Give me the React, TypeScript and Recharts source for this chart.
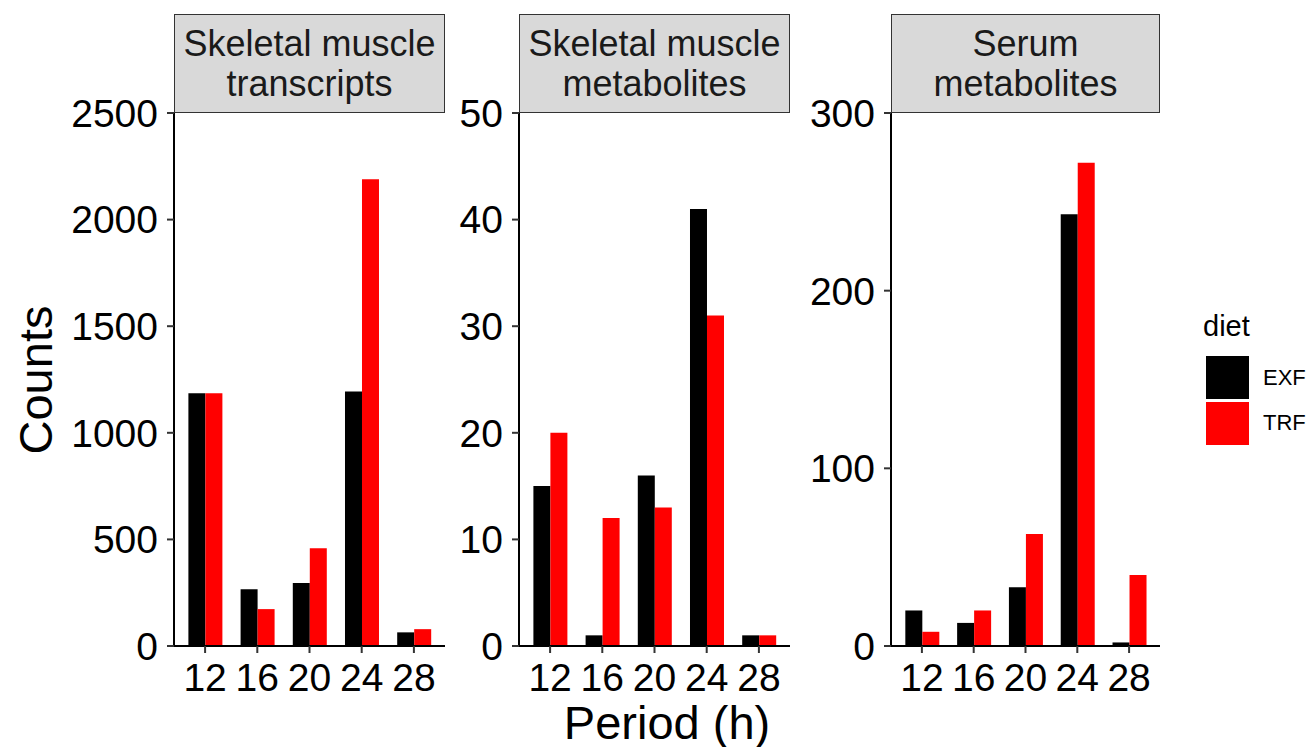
import { BarChart, Bar, XAxis, YAxis } from 'recharts';

const periods = ['12', '16', '20', '24', '28'];

const transcriptsEXF = [1186, 266, 295, 1194, 64];
const transcriptsTRF = [1186, 173, 459, 2189, 79];

const muscleMetabolitesEXF = [15, 1, 16, 41, 1];
const muscleMetabolitesTRF = [20, 12, 13, 31, 1];

const serumMetabolitesEXF = [20, 13, 33, 243, 2];
const serumMetabolitesTRF = [8, 20, 63, 272, 40];

const transcriptTicks = [0, 500, 1000, 1500, 2000, 2500];
const muscleTicks = [0, 10, 20, 30, 40, 50];
const serumTicks = [0, 100, 200, 300];

const FONT = '"Liberation Sans", Arial, Helvetica, sans-serif';
const PLOT_TOP = 113;
const PLOT_BOTTOM = 646;
const Y_AXIS_W = 130;
const X_AXIS_H = 60;
const H = 747;

function toRows(exf: number[], trf: number[]) {
  return periods.map((p, i) => ({ period: p, EXF: exf[i], TRF: trf[i] }));
}

interface PanelProps {
  plotLeft: number;
  plotWidth: number;
  exf: number[];
  trf: number[];
  ticks: number[];
  title: string[];
}

function Panel({ plotLeft, plotWidth, exf, trf, ticks, title }: PanelProps) {
  const data = toRows(exf, trf);
  const max = ticks[ticks.length - 1];
  return (
    <>
      <div
        style={{
          position: 'absolute',
          left: plotLeft,
          top: 14,
          width: plotWidth,
          height: PLOT_TOP - 14,
          boxSizing: 'border-box',
          border: '1.5px solid #333',
          background: '#d9d9d9',
          display: 'flex',
          flexDirection: 'column',
          justifyContent: 'center',
          alignItems: 'center',
          fontFamily: FONT,
          fontSize: 36,
          lineHeight: '40px',
          color: '#1a1a1a',
          whiteSpace: 'nowrap',
        }}
      >
        {title.map((t) => (
          <div key={t}>{t}</div>
        ))}
      </div>
      <div style={{ position: 'absolute', left: plotLeft - Y_AXIS_W, top: 0 }}>
        <BarChart
          width={Y_AXIS_W + plotWidth + 4}
          height={H}
          data={data}
          margin={{ top: PLOT_TOP, right: 4, left: 0, bottom: H - PLOT_BOTTOM - X_AXIS_H }}
          barGap={0}
          barCategoryGap="18%"
        >
          <XAxis
            dataKey="period"
            height={X_AXIS_H}
            padding={{ left: 5, right: 5 }}
            interval={0}
            axisLine={{ stroke: '#000', strokeWidth: 2 }}
            tickLine={{ stroke: '#333', strokeWidth: 2 }}
            tickSize={7}
            tickMargin={10}
            tick={{ fill: '#000', fontSize: 39, fontFamily: FONT }}
          />
          <YAxis
            width={Y_AXIS_W}
            domain={[0, max]}
            ticks={ticks}
            interval={0}
            allowDataOverflow
            axisLine={{ stroke: '#000', strokeWidth: 2 }}
            tickLine={{ stroke: '#333', strokeWidth: 2 }}
            tickSize={7}
            tickMargin={9}
            tick={{ fill: '#000', fontSize: 39, fontFamily: FONT }}
          />
          <Bar dataKey="EXF" fill="#000000" isAnimationActive={false} />
          <Bar dataKey="TRF" fill="#ff0000" isAnimationActive={false} />
        </BarChart>
      </div>
    </>
  );
}

export default function App() {
  return (
    <div
      style={{
        position: 'absolute',
        left: 0,
        top: 0,
        width: 1316,
        height: 747,
        background: '#fff',
        fontFamily: FONT,
        overflow: 'hidden',
      }}
    >
      <Panel
        plotLeft={174}
        plotWidth={271}
        exf={transcriptsEXF}
        trf={transcriptsTRF}
        ticks={transcriptTicks}
        title={['Skeletal muscle', 'transcripts']}
      />
      <Panel
        plotLeft={519}
        plotWidth={271}
        exf={muscleMetabolitesEXF}
        trf={muscleMetabolitesTRF}
        ticks={muscleTicks}
        title={['Skeletal muscle', 'metabolites']}
      />
      <Panel
        plotLeft={891}
        plotWidth={269}
        exf={serumMetabolitesEXF}
        trf={serumMetabolitesTRF}
        ticks={serumTicks}
        title={['Serum', 'metabolites']}
      />

      {/* y axis title */}
      <div
        style={{
          position: 'absolute',
          left: 35,
          top: 380,
          transform: 'translate(-50%, -50%) rotate(-90deg)',
          fontSize: 47,
          whiteSpace: 'nowrap',
          color: '#000',
        }}
      >
        Counts
      </div>
      {/* x axis title */}
      <div
        style={{
          position: 'absolute',
          left: 667,
          top: 722,
          transform: 'translate(-50%, -50%)',
          fontSize: 47,
          whiteSpace: 'nowrap',
          color: '#000',
        }}
      >
        Period (h)
      </div>

      {/* legend */}
      <div style={{ position: 'absolute', left: 1203, top: 310, fontSize: 29, color: '#000' }}>diet</div>
      <div style={{ position: 'absolute', left: 1206, top: 356, width: 43, height: 43, background: '#000' }} />
      <div style={{ position: 'absolute', left: 1206, top: 402, width: 43, height: 43, background: '#ff0000' }} />
      <div
        style={{ position: 'absolute', left: 1263, top: 378, transform: 'translateY(-50%)', fontSize: 22, color: '#000' }}
      >
        EXF
      </div>
      <div
        style={{ position: 'absolute', left: 1263, top: 423, transform: 'translateY(-50%)', fontSize: 22, color: '#000' }}
      >
        TRF
      </div>
    </div>
  );
}
